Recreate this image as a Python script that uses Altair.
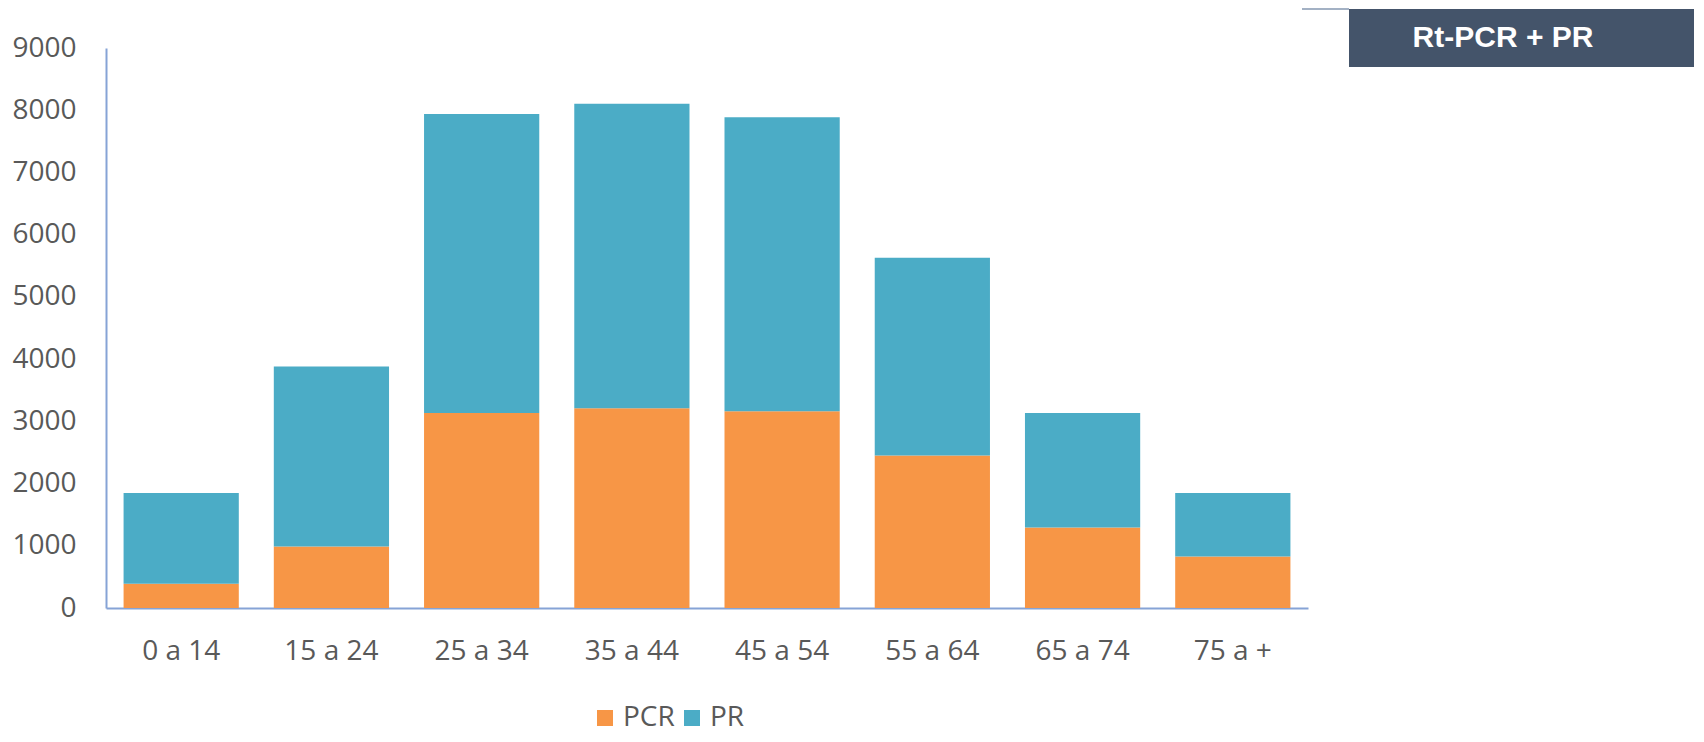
import altair as alt
import pandas as pd

ages = ["0 a 14", "15 a 24", "25 a 34", "35 a 44", "45 a 54", "55 a 64", "65 a 74", "75 a +"]
pcr = [390, 989, 3132, 3212, 3164, 2451, 1295, 829]
pr = [1457, 2892, 4807, 4893, 4722, 3180, 1837, 1018]
series = ["PCR", "PR"]
colors = ["#F79646", "#4BACC6"]
y_ticks = [0, 1000, 2000, 3000, 4000, 5000, 6000, 7000, 8000, 9000]
header_text = ["Rt-PCR + PR"]

rows = []
for a, v in zip(ages, pcr):
    rows.append({"age": a, "series": "PCR", "value": v, "ord": 0})
for a, v in zip(ages, pr):
    rows.append({"age": a, "series": "PR", "value": v, "ord": 1})
df = pd.DataFrame(rows)

FONT = "Open Sans"
AXIS_COLOR = "#86A3D6"
LABEL_COLOR = "#595959"

bars = alt.Chart(df).mark_bar().encode(
    x=alt.X("age:N", sort=ages, title=None,
            scale=alt.Scale(paddingInner=0.233, paddingOuter=0.117),
            axis=alt.Axis(labelAngle=0, labelFont=FONT, labelFontSize=28,
                          labelColor=LABEL_COLOR, labelPadding=29, ticks=False,
                          tickSize=0, domainColor=AXIS_COLOR, domainWidth=2,
                          grid=False)),
    y=alt.Y("value:Q", stack="zero", title=None,
            scale=alt.Scale(domain=[0, 9000], nice=False),
            axis=alt.Axis(values=y_ticks, format="d", labelFont=FONT, labelFontSize=28,
                          labelColor=LABEL_COLOR, labelPadding=30, ticks=False,
                          tickSize=0, domainColor=AXIS_COLOR, domainWidth=2,
                          grid=False)),
    color=alt.Color("series:N", scale=alt.Scale(domain=series, range=colors),
                    legend=alt.Legend(title=None, orient="none", direction="horizontal",
                                      legendX=485, legendY=656, symbolType="square",
                                      symbolSize=256, symbolStrokeWidth=0,
                                      labelFont=FONT, labelFontSize=28,
                                      labelColor=LABEL_COLOR, labelOffset=4,
                                      columnPadding=3)),
    order=alt.Order("ord:Q", sort="ascending"),
)

header_df = pd.DataFrame({"t": header_text})
box = alt.Chart(header_df).mark_rect(color="#44546A").encode(
    x=alt.value(1243), x2=alt.value(1590), y=alt.value(-39), y2=alt.value(19)
)
line = alt.Chart(header_df).mark_rule(color="#8497B0", strokeWidth=1.5).encode(
    x=alt.value(1196), x2=alt.value(1243), y=alt.value(-39)
)
txt = alt.Chart(header_df).mark_text(
    font="Liberation Sans", fontWeight="bold", fontSize=30, color="white",
    align="center", baseline="middle"
).encode(x=alt.value(1397), y=alt.value(-10), text="t:N")

chart = alt.layer(bars, line, box, txt).properties(
    width=1202, height=560,
    background="white",
    autosize=alt.AutoSizeParams(type="none"),
    padding={"left": 98, "top": 40, "right": 386, "bottom": 126},
).configure_view(stroke="transparent", strokeWidth=0)

chart.save("out.html", embed_options={"renderer": "svg", "actions": False})
